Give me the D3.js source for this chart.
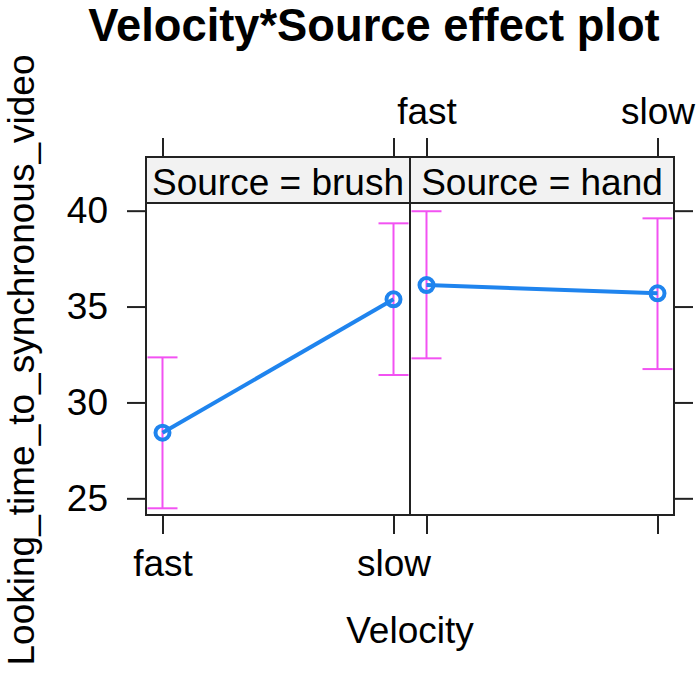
<!DOCTYPE html>
<html>
<head>
<meta charset="utf-8">
<script src="https://cdn.jsdelivr.net/npm/d3@7/dist/d3.min.js"></script>
<style>
  html, body { margin: 0; padding: 0; background: #fff; }
  text { font-family: "Liberation Sans", Arial, Helvetica, sans-serif; fill: #000; }
</style>
</head>
<body>
<svg id="chart" width="700" height="676"></svg>
<script>
// ---- data ----
const velocity = ["fast", "slow"];
const sources = ["brush", "hand"];
const fitBrush = [28.42, 35.38];
const lowerBrush = [24.48, 31.43];
const upperBrush = [32.35, 39.34];
const fitHand = [36.12, 35.69];
const lowerHand = [32.30, 31.74];
const upperHand = [39.97, 39.60];
const yTicks = [25, 30, 35, 40];
const titleText = "Velocity*Source effect plot";
const xLabel = "Velocity";
const yLabel = "Looking_time_to_synchronous_video";

const series = [
  { source: sources[0], fit: fitBrush, lower: lowerBrush, upper: upperBrush },
  { source: sources[1], fit: fitHand, lower: lowerHand, upper: upperHand }
];

// ---- layout ----
const svg = d3.select("#chart");
const plotLeft = 146, panelW = 264;
const stripTop = 157, stripH = 46;
const panelTop = stripTop + stripH, panelBottom = 515;
const tickLen = 19;
const fontSize = 37;
const lineBlue = "#1f84ee";
const ciColor = "#f252f2";
const frameColor = "#222";

const y = d3.scaleLinear().domain([24.13, 40.40]).range([panelBottom, panelTop]);
const x = d3.scalePoint().domain(velocity).range([0, panelW]).padding(0.0714);

// title
svg.append("text")
  .attr("x", 374).attr("y", 41)
  .attr("text-anchor", "middle")
  .attr("font-size", 45.3).attr("font-weight", "bold")
  .text(titleText);

// y label
svg.append("text")
  .attr("transform", "translate(34,360) rotate(-90)")
  .attr("text-anchor", "middle")
  .attr("font-size", fontSize)
  .text(yLabel);

// x label
svg.append("text")
  .attr("x", plotLeft + panelW).attr("y", 643)
  .attr("text-anchor", "middle")
  .attr("font-size", fontSize)
  .text(xLabel);

svg.append("defs").selectAll("clipPath").data(series).join("clipPath")
  .attr("id", (d, i) => "clip" + i)
  .append("rect")
  .attr("x", 0).attr("y", 0).attr("width", panelW).attr("height", panelBottom - panelTop);

series.forEach((s, i) => {
  const g = svg.append("g").attr("transform", `translate(${plotLeft + i * panelW},0)`);

  // bottom ticks
  const bottomAxis = d3.axisBottom(x).tickSizeInner(tickLen).tickSizeOuter(0).tickPadding(16);
  const ba = g.append("g").attr("transform", `translate(0,${panelBottom})`).call(bottomAxis);
  // top ticks
  const topAxis = d3.axisTop(x).tickSizeInner(tickLen).tickSizeOuter(0).tickPadding(14);
  const ta = g.append("g").attr("transform", `translate(0,${stripTop})`).call(topAxis);
  [ba, ta].forEach(a => {
    a.select(".domain").remove();
    a.selectAll(".tick line").attr("stroke", frameColor).attr("stroke-width", 2);
    a.selectAll(".tick text").attr("font-size", fontSize).attr("font-family", "Liberation Sans, Arial, sans-serif").attr("fill", "#000");
  });
  if (i === 0) ta.selectAll(".tick text").remove();
  else ba.selectAll(".tick text").remove();

  // y ticks
  if (i === 0) {
    const la = g.append("g").call(d3.axisLeft(y).tickValues(yTicks).tickSizeInner(tickLen).tickSizeOuter(0).tickPadding(19));
    la.select(".domain").remove();
    la.selectAll(".tick line").attr("stroke", frameColor).attr("stroke-width", 2);
    la.selectAll(".tick text").attr("font-size", fontSize).attr("font-family", "Liberation Sans, Arial, sans-serif").attr("fill", "#000");
  } else {
    const ra = g.append("g").attr("transform", `translate(${panelW},0)`)
      .call(d3.axisRight(y).tickValues(yTicks).tickSizeInner(tickLen).tickSizeOuter(0).tickFormat(""));
    ra.select(".domain").remove();
    ra.selectAll(".tick line").attr("stroke", frameColor).attr("stroke-width", 2);
  }

  // strip
  g.append("rect")
    .attr("x", 0).attr("y", stripTop).attr("width", panelW).attr("height", stripH)
    .attr("fill", "#f2f2f2").attr("stroke", frameColor).attr("stroke-width", 2);
  g.append("text")
    .attr("x", panelW / 2).attr("y", 195)
    .attr("text-anchor", "middle").attr("font-size", fontSize)
    .text("Source = " + s.source);

  // panel contents
  const pg = g.append("g").attr("transform", `translate(0,${panelTop})`);
  const inner = pg.append("g").attr("clip-path", `url(#clip${i})`)
    .append("g").attr("transform", `translate(0,${-panelTop})`);

  const rows = velocity.map((v, j) => ({ v, fit: s.fit[j], lo: s.lower[j], hi: s.upper[j] }));
  const cap = 15;
  inner.selectAll(".ci").data(rows).join("line")
    .attr("x1", d => x(d.v)).attr("x2", d => x(d.v))
    .attr("y1", d => y(d.lo)).attr("y2", d => y(d.hi))
    .attr("stroke", ciColor).attr("stroke-width", 2);
  inner.selectAll(".capHi").data(rows).join("line")
    .attr("x1", d => x(d.v) - cap).attr("x2", d => x(d.v) + cap)
    .attr("y1", d => y(d.hi)).attr("y2", d => y(d.hi))
    .attr("stroke", ciColor).attr("stroke-width", 2);
  inner.selectAll(".capLo").data(rows).join("line")
    .attr("x1", d => x(d.v) - cap).attr("x2", d => x(d.v) + cap)
    .attr("y1", d => y(d.lo)).attr("y2", d => y(d.lo))
    .attr("stroke", ciColor).attr("stroke-width", 2);

  inner.append("path").datum(rows)
    .attr("d", d3.line().x(d => x(d.v)).y(d => y(d.fit)))
    .attr("fill", "none").attr("stroke", lineBlue).attr("stroke-width", 4);
  inner.selectAll(".pt").data(rows).join("circle")
    .attr("cx", d => x(d.v)).attr("cy", d => y(d.fit)).attr("r", 7)
    .attr("fill", "none").attr("stroke", lineBlue).attr("stroke-width", 4);

  // frame
  g.append("rect")
    .attr("x", 0).attr("y", panelTop).attr("width", panelW).attr("height", panelBottom - panelTop)
    .attr("fill", "none").attr("stroke", frameColor).attr("stroke-width", 2);
});
</script>
</body>
</html>
